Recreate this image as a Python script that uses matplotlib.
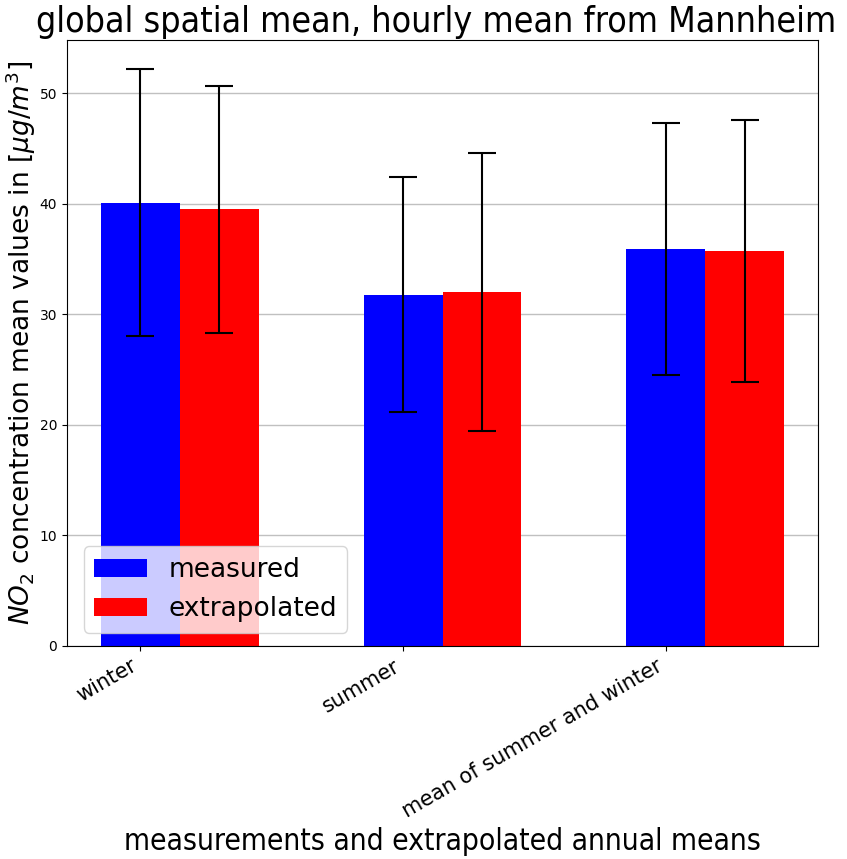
import matplotlib
matplotlib.use("Agg")
import matplotlib.pyplot as plt
import numpy as np

categories = ["winter", "summer", "mean of summer and winter"]
measured = [40.09, 31.78, 35.94]
measured_std = [12.1, 10.6, 11.4]
extrapolated = [39.49, 32.02, 35.75]
extrapolated_std = [11.15, 12.6, 11.85]

fig = plt.figure(figsize=(8.47, 8.59), dpi=100)
ax = fig.add_axes([0.079, 0.248, 0.887, 0.7054])

x = np.arange(len(categories))
w = 0.3
ax.bar(x, measured, w, yerr=measured_std, color="blue", capsize=10,
       error_kw=dict(elinewidth=1.5, capthick=1.5), label="measured")
ax.bar(x + w, extrapolated, w, yerr=extrapolated_std, color="red", capsize=10,
       error_kw=dict(elinewidth=1.5, capthick=1.5), label="extrapolated")

ax.set_axisbelow(True)
ax.yaxis.grid(True, color="#c0c0c0", linewidth=1)
ax.set_xticks(x)
ax.set_xticklabels(categories, rotation=30, ha="right", fontsize=15)
ax.tick_params(axis="y", labelsize=10)
ax.set_ylabel(r"$NO_2$ concentration mean values in $[\mu g/m^3]$", fontsize=19,
              labelpad=1)
ax.set_xlabel("measurements and extrapolated annual means", fontsize=21.5,
              fontstretch="condensed")
ax.set_title("global spatial mean, hourly mean from Mannheim", fontsize=25.7,
             fontstretch="condensed", x=0.491)
ax.legend(loc="lower left", fontsize=19, bbox_to_anchor=(0.005, 0.0))

fig.savefig("out.png", dpi=100)
